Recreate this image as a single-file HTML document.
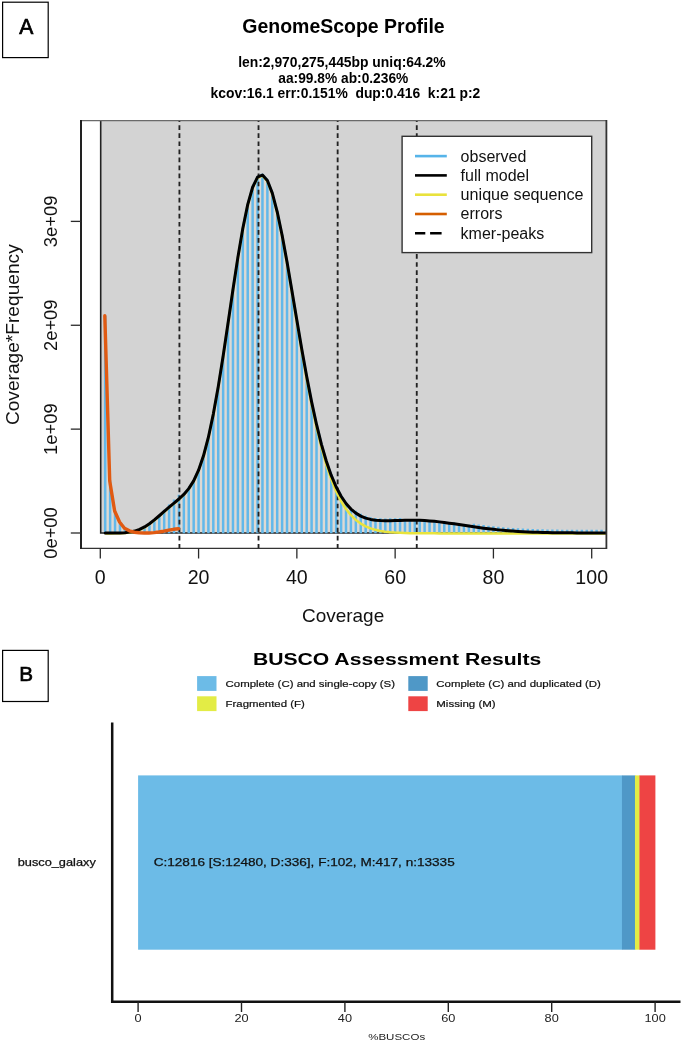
<!DOCTYPE html>
<html lang="en"><head><meta charset="utf-8"><title>GenomeScope Profile / BUSCO Assessment Results</title>
<style>html,body{margin:0;padding:0;background:#fff}body{width:685px;height:1044px;overflow:hidden}svg{display:block}</style></head>
<body>
<svg width="685" height="1044" viewBox="0 0 685 1044" font-family="'Liberation Sans', Arial, sans-serif">
<rect width="685" height="1044" fill="#fff"/>
<g id="panelA">
<rect x="2.6" y="2.2" width="45.6" height="55.4" fill="#fff" stroke="#000" stroke-width="1.2"/>
<text x="26.3" y="33.9" font-size="22" text-anchor="middle" fill="#000" stroke="#000" stroke-width="0.7" textLength="14.1" lengthAdjust="spacingAndGlyphs">A</text>
<text x="343.5" y="33.4" font-size="19.5" font-weight="bold" text-anchor="middle" textLength="202.4" lengthAdjust="spacingAndGlyphs">GenomeScope Profile</text>
<text x="341.9" y="66.6" font-size="13.9" font-weight="bold" text-anchor="middle" textLength="207.5" lengthAdjust="spacingAndGlyphs">len:2,970,275,445bp uniq:64.2%</text>
<text x="343.3" y="82.6" font-size="13.9" font-weight="bold" text-anchor="middle" textLength="130" lengthAdjust="spacingAndGlyphs">aa:99.8% ab:0.236%</text>
<text x="345.4" y="98.4" font-size="13.9" font-weight="bold" text-anchor="middle" textLength="269.7" lengthAdjust="spacingAndGlyphs" xml:space="preserve">kcov:16.1 err:0.151%  dup:0.416  k:21 p:2</text>
<rect x="100.6" y="120.6" width="506.2" height="412.4" fill="#d3d3d3"/>
<clipPath id="plotclip"><rect x="81.0" y="120.6" width="525.8" height="427.7"/></clipPath>
<g clip-path="url(#plotclip)">
<path d="M104.01,533.00 L105.21,315.80 L110.13,481.00 L115.04,510.97 L119.96,521.89 L124.87,527.84 L129.78,529.90 L134.70,530.26 L139.61,529.18 L144.53,526.93 L149.44,523.73 L154.35,519.53 L159.27,514.74 L164.18,509.64 L169.10,504.43 L174.01,499.45 L178.92,494.72 L183.84,493.99 L188.75,488.23 L193.67,480.47 L198.58,469.81 L203.49,455.44 L208.41,436.79 L213.32,413.65 L218.24,386.30 L223.15,355.52 L228.06,322.56 L232.98,289.08 L237.89,256.95 L242.81,228.08 L247.72,204.22 L252.63,186.80 L257.55,176.78 L262.46,174.58 L267.38,180.08 L272.29,192.68 L277.20,211.35 L282.12,234.83 L287.03,261.68 L291.95,290.49 L296.86,319.90 L301.77,348.78 L306.69,376.18 L311.60,401.43 L316.52,424.07 L321.43,443.88 L326.34,460.82 L331.26,474.99 L336.17,486.57 L341.09,495.85 L346.00,503.10 L350.91,508.63 L355.83,510.87 L360.74,513.81 L365.66,515.83 L370.57,517.14 L375.48,517.91 L380.40,518.29 L385.31,518.41 L390.23,518.37 L395.14,518.25 L400.05,518.10 L404.97,519.85 L409.88,519.79 L414.80,519.81 L419.71,519.93 L424.62,520.16 L429.54,520.50 L434.45,520.94 L439.37,521.46 L444.28,521.23 L449.19,521.90 L454.11,522.60 L459.02,523.34 L463.94,524.09 L468.85,524.83 L473.76,523.69 L478.68,524.39 L483.59,525.05 L488.51,525.67 L493.42,526.24 L498.33,526.76 L503.25,527.23 L508.16,527.64 L513.08,528.01 L517.99,528.32 L522.90,528.60 L527.82,528.83 L532.73,529.03 L537.65,529.20 L542.56,529.33 L547.47,529.45 L552.39,529.54 L557.30,529.61 L562.22,529.67 L567.13,529.72 L572.04,529.76 L576.96,529.79 L581.87,529.81 L586.79,529.83 L591.70,529.84 L596.61,529.85 L601.53,529.86 L606.44,529.87 L606.80,533.00 Z" fill="#ddd9d3"/>
<path d="M100.7,120.6 V533.0 H606.8" fill="none" stroke="#222" stroke-width="1.6"/>
<path d="M105.21,533.30 V315.80 M110.13,533.30 V481.00 M115.04,533.30 V510.97 M119.96,533.30 V521.89 M124.87,533.30 V527.84 M129.78,533.30 V529.90 M134.70,533.30 V530.26 M139.61,533.30 V529.18 M144.53,533.30 V526.93 M149.44,533.30 V523.73 M154.35,533.30 V519.53 M159.27,533.30 V514.74 M164.18,533.30 V509.64 M169.10,533.30 V504.43 M174.01,533.30 V499.45 M178.92,533.30 V494.72 M183.84,533.30 V493.99 M188.75,533.30 V488.23 M193.67,533.30 V480.47 M198.58,533.30 V469.81 M203.49,533.30 V455.44 M208.41,533.30 V436.79 M213.32,533.30 V413.65 M218.24,533.30 V386.30 M223.15,533.30 V355.52 M228.06,533.30 V322.56 M232.98,533.30 V289.08 M237.89,533.30 V256.95 M242.81,533.30 V228.08 M247.72,533.30 V204.22 M252.63,533.30 V186.80 M257.55,533.30 V176.78 M262.46,533.30 V174.58 M267.38,533.30 V180.08 M272.29,533.30 V192.68 M277.20,533.30 V211.35 M282.12,533.30 V234.83 M287.03,533.30 V261.68 M291.95,533.30 V290.49 M296.86,533.30 V319.90 M301.77,533.30 V348.78 M306.69,533.30 V376.18 M311.60,533.30 V401.43 M316.52,533.30 V424.07 M321.43,533.30 V443.88 M326.34,533.30 V460.82 M331.26,533.30 V474.99 M336.17,533.30 V486.57 M341.09,533.30 V495.85 M346.00,533.30 V503.10 M350.91,533.30 V508.63 M355.83,533.30 V510.87 M360.74,533.30 V513.81 M365.66,533.30 V515.83 M370.57,533.30 V517.14 M375.48,533.30 V517.91 M380.40,533.30 V518.29 M385.31,533.30 V518.41 M390.23,533.30 V518.37 M395.14,533.30 V518.25 M400.05,533.30 V518.10 M404.97,533.30 V519.85 M409.88,533.30 V519.79 M414.80,533.30 V519.81 M419.71,533.30 V519.93 M424.62,533.30 V520.16 M429.54,533.30 V520.50 M434.45,533.30 V520.94 M439.37,533.30 V521.46 M444.28,533.30 V521.23 M449.19,533.30 V521.90 M454.11,533.30 V522.60 M459.02,533.30 V523.34 M463.94,533.30 V524.09 M468.85,533.30 V524.83 M473.76,533.30 V523.69 M478.68,533.30 V524.39 M483.59,533.30 V525.05 M488.51,533.30 V525.67 M493.42,533.30 V526.24 M498.33,533.30 V526.76 M503.25,533.30 V527.23 M508.16,533.30 V527.64 M513.08,533.30 V528.01 M517.99,533.30 V528.32 M522.90,533.30 V528.60 M527.82,533.30 V528.83 M532.73,533.30 V529.03 M537.65,533.30 V529.20 M542.56,533.30 V529.33 M547.47,533.30 V529.45 M552.39,533.30 V529.54 M557.30,533.30 V529.61 M562.22,533.30 V529.67 M567.13,533.30 V529.72 M572.04,533.30 V529.76 M576.96,533.30 V529.79 M581.87,533.30 V529.81 M586.79,533.30 V529.83 M591.70,533.30 V529.84 M596.61,533.30 V529.85 M601.53,533.30 V529.86 M606.44,533.30 V529.87" stroke="#62b8ea" stroke-width="2.5" fill="none"/>
<path d="M183.84,493.99 L188.75,488.23 L193.67,480.47 L198.58,469.81 L203.49,455.44 L208.41,436.79 L213.32,413.65 L218.24,386.30 L223.15,355.52 L228.06,322.56 L232.98,289.08 L237.89,256.95 L242.81,228.08 L247.72,204.22 L252.63,186.80 L257.55,176.78 L262.46,174.58 L267.38,180.08 L272.29,192.68 L277.20,211.35 L282.12,234.83 L287.03,261.68 L291.95,290.49 L296.86,319.90 L301.77,348.78 L306.69,376.18 L311.60,401.43 L316.52,424.07 L321.43,443.88 L326.34,460.82 L331.26,474.99 L336.17,486.57 L341.09,495.85 L346.00,503.10" stroke="#62b8ea" stroke-width="2.2" fill="none" stroke-linejoin="round"/>
<line x1="179.42" x2="179.42" y1="548.6" y2="120.6" stroke="#222" stroke-width="1.85" stroke-dasharray="4.7 3.35"/>
<line x1="258.53" x2="258.53" y1="548.6" y2="120.6" stroke="#222" stroke-width="1.85" stroke-dasharray="4.7 3.35"/>
<line x1="337.65" x2="337.65" y1="548.6" y2="120.6" stroke="#222" stroke-width="1.85" stroke-dasharray="4.7 3.35"/>
<line x1="416.76" x2="416.76" y1="548.6" y2="120.6" stroke="#222" stroke-width="1.85" stroke-dasharray="4.7 3.35"/>
<path d="M105.21,533.40 L110.13,533.40 L115.04,533.37 L119.96,533.29 L124.87,533.04 L129.78,532.50 L134.70,531.46 L139.61,529.78 L144.53,527.33 L149.44,524.13 L154.35,520.33 L159.27,516.14 L164.18,511.84 L169.10,507.63 L174.01,503.55 L178.92,499.42 L183.84,494.81 L188.75,489.04 L193.67,481.28 L198.58,470.62 L203.49,456.26 L208.41,437.61 L213.32,414.47 L218.24,387.12 L223.15,356.34 L228.06,323.39 L232.98,289.92 L237.89,257.80 L242.81,228.95 L247.72,205.12 L252.63,187.74 L257.55,177.76 L262.46,175.62 L267.38,181.20 L272.29,193.89 L277.20,212.68 L282.12,236.30 L287.03,263.31 L291.95,292.30 L296.86,321.93 L301.77,351.04 L306.69,378.71 L311.60,404.25 L316.52,427.22 L321.43,447.40 L326.34,464.74 L331.26,479.34 L336.17,491.42 L341.09,501.22 L346.00,509.05 L350.91,515.20 L355.83,519.96 L360.74,523.60 L365.66,526.33 L370.57,528.35 L375.48,529.84 L380.40,530.91 L385.31,531.68 L390.23,532.22 L395.14,532.60 L400.05,532.87 L404.97,533.04 L409.88,533.17 L414.80,533.25 L419.71,533.30 L424.62,533.34 L429.54,533.36 L434.45,533.37 L439.37,533.38 L444.28,533.39 L449.19,533.39 L454.11,533.40 L459.02,533.40 L463.94,533.40 L468.85,533.40 L473.76,533.40 L478.68,533.40 L483.59,533.40 L488.51,533.40 L493.42,533.40 L498.33,533.40 L503.25,533.40 L508.16,533.40 L513.08,533.40 L517.99,533.40 L522.90,533.40 L527.82,533.40 L532.73,533.40 L537.65,533.40 L542.56,533.40 L547.47,533.40 L552.39,533.40 L557.30,533.40 L562.22,533.40 L567.13,533.40 L572.04,533.40 L576.96,533.40 L581.87,533.40 L586.79,533.40 L591.70,533.40 L596.61,533.40 L601.53,533.40 L606.44,533.40 L611.36,533.40" stroke="#e8e33c" stroke-width="2.5" fill="none" stroke-linejoin="round"/>
<path d="M105.21,533.00 L110.13,533.00 L115.04,532.97 L119.96,532.89 L124.87,532.64 L129.78,532.10 L134.70,531.06 L139.61,529.38 L144.53,526.93 L149.44,523.73 L154.35,519.93 L159.27,515.74 L164.18,511.44 L169.10,507.23 L174.01,503.15 L178.92,499.02 L183.84,494.41 L188.75,488.64 L193.67,480.88 L198.58,470.22 L203.49,455.86 L208.41,437.21 L213.32,414.07 L218.24,386.72 L223.15,355.93 L228.06,322.98 L232.98,289.50 L237.89,257.37 L242.81,228.49 L247.72,204.64 L252.63,187.22 L257.55,177.20 L262.46,175.00 L267.38,180.50 L272.29,193.09 L277.20,211.77 L282.12,235.24 L287.03,262.10 L291.95,290.90 L296.86,320.32 L301.77,349.20 L306.69,376.60 L311.60,401.84 L316.52,424.48 L321.43,444.30 L326.34,461.24 L331.26,475.40 L336.17,486.99 L341.09,496.26 L346.00,503.52 L350.91,509.05 L355.83,513.15 L360.74,516.09 L365.66,518.11 L370.57,519.42 L375.48,520.19 L380.40,520.58 L385.31,520.70 L390.23,520.66 L395.14,520.53 L400.05,520.38 L404.97,520.26 L409.88,520.20 L414.80,520.23 L419.71,520.35 L424.62,520.58 L429.54,520.92 L434.45,521.35 L439.37,521.88 L444.28,522.48 L449.19,523.14 L454.11,523.85 L459.02,524.58 L463.94,525.33 L468.85,526.08 L473.76,526.80 L478.68,527.50 L483.59,528.17 L488.51,528.79 L493.42,529.36 L498.33,529.88 L503.25,530.34 L508.16,530.76 L513.08,531.12 L517.99,531.44 L522.90,531.72 L527.82,531.95 L532.73,532.15 L537.65,532.31 L542.56,532.45 L547.47,532.56 L552.39,532.65 L557.30,532.73 L562.22,532.79 L567.13,532.84 L572.04,532.87 L576.96,532.90 L581.87,532.93 L586.79,532.95 L591.70,532.96 L596.61,532.97 L601.53,532.98 L606.44,532.98 L611.36,532.99" stroke="#000" stroke-width="3.0" fill="none" stroke-linejoin="round" stroke-linecap="round"/>
<path d="M104.81,315.80 L109.73,481.00 L114.64,511.00 L119.56,522.00 L124.47,528.20 L129.38,530.80 L134.30,532.20 L139.21,532.80 L144.13,533.00 L149.04,533.00 L153.95,532.60 L158.87,532.00 L163.78,531.20 L168.70,530.20 L173.61,529.30 L178.52,528.70" stroke="#e05a12" stroke-width="3.4" fill="none" stroke-linejoin="round" stroke-linecap="round"/>
</g>
<line x1="81.0" x2="606.8" y1="120.6" y2="120.6" stroke="#6a6a6a" stroke-width="1.1"/>
<line x1="81.0" x2="606.8" y1="548.3" y2="548.3" stroke="#333" stroke-width="1.3"/>
<line x1="606.4" x2="606.4" y1="120.1" y2="548.9" stroke="#333" stroke-width="1.8"/>
<line x1="81.0" x2="81.0" y1="120.1" y2="548.9" stroke="#222" stroke-width="2"/>
<line x1="70.8" x2="81.0" y1="533.00" y2="533.00" stroke="#2a2a2a" stroke-width="1.3"/>
<text transform="translate(56.8,533.00) rotate(-90)" font-size="17.6" text-anchor="middle" textLength="51.5" lengthAdjust="spacingAndGlyphs" fill="#111">0e+00</text>
<line x1="70.8" x2="81.0" y1="429.13" y2="429.13" stroke="#2a2a2a" stroke-width="1.3"/>
<text transform="translate(56.8,429.13) rotate(-90)" font-size="17.6" text-anchor="middle" textLength="51.5" lengthAdjust="spacingAndGlyphs" fill="#111">1e+09</text>
<line x1="70.8" x2="81.0" y1="325.26" y2="325.26" stroke="#2a2a2a" stroke-width="1.3"/>
<text transform="translate(56.8,325.26) rotate(-90)" font-size="17.6" text-anchor="middle" textLength="51.5" lengthAdjust="spacingAndGlyphs" fill="#111">2e+09</text>
<line x1="70.8" x2="81.0" y1="221.39" y2="221.39" stroke="#2a2a2a" stroke-width="1.3"/>
<text transform="translate(56.8,221.39) rotate(-90)" font-size="17.6" text-anchor="middle" textLength="51.5" lengthAdjust="spacingAndGlyphs" fill="#111">3e+09</text>
<line x1="100.30" x2="100.30" y1="548.3" y2="558.5" stroke="#2a2a2a" stroke-width="1.3"/>
<text x="100.30" y="584.3" font-size="19.6" text-anchor="middle" fill="#111">0</text>
<line x1="198.58" x2="198.58" y1="548.3" y2="558.5" stroke="#2a2a2a" stroke-width="1.3"/>
<text x="198.58" y="584.3" font-size="19.6" text-anchor="middle" fill="#111">20</text>
<line x1="296.86" x2="296.86" y1="548.3" y2="558.5" stroke="#2a2a2a" stroke-width="1.3"/>
<text x="296.86" y="584.3" font-size="19.6" text-anchor="middle" fill="#111">40</text>
<line x1="395.14" x2="395.14" y1="548.3" y2="558.5" stroke="#2a2a2a" stroke-width="1.3"/>
<text x="395.14" y="584.3" font-size="19.6" text-anchor="middle" fill="#111">60</text>
<line x1="493.42" x2="493.42" y1="548.3" y2="558.5" stroke="#2a2a2a" stroke-width="1.3"/>
<text x="493.42" y="584.3" font-size="19.6" text-anchor="middle" fill="#111">80</text>
<line x1="591.70" x2="591.70" y1="548.3" y2="558.5" stroke="#2a2a2a" stroke-width="1.3"/>
<text x="591.70" y="584.3" font-size="19.6" text-anchor="middle" fill="#111">100</text>
<text x="343.1" y="622.3" font-size="18.2" text-anchor="middle" textLength="82.3" lengthAdjust="spacingAndGlyphs" fill="#111">Coverage</text>
<text transform="translate(18.6,334.7) rotate(-90)" font-size="18.6" text-anchor="middle" textLength="180.8" lengthAdjust="spacingAndGlyphs" fill="#111">Coverage*Frequency</text>
<rect x="402.1" y="136.3" width="189.6" height="116.3" fill="#fff" stroke="#333" stroke-width="1.4"/>
<line x1="415" x2="446.8" y1="156.1" y2="156.1" stroke="#56b4e9" stroke-width="2.6"/>
<text x="460.6" y="161.5" font-size="16" fill="#111" textLength="65.8" lengthAdjust="spacingAndGlyphs">observed</text>
<line x1="415" x2="446.8" y1="175.4" y2="175.4" stroke="#000" stroke-width="2.6"/>
<text x="460.6" y="180.8" font-size="16" fill="#111">full model</text>
<line x1="415" x2="446.8" y1="194.7" y2="194.7" stroke="#e9e23c" stroke-width="2.6"/>
<text x="460.6" y="200.1" font-size="16" fill="#111" textLength="123" lengthAdjust="spacingAndGlyphs">unique sequence</text>
<line x1="415" x2="446.8" y1="214.0" y2="214.0" stroke="#d55e00" stroke-width="2.6"/>
<text x="460.6" y="219.4" font-size="16" fill="#111">errors</text>
<line x1="415" x2="446.8" y1="233.3" y2="233.3" stroke="#000" stroke-width="2.6" stroke-dasharray="10.3 4.8 11.5 100"/>
<text x="460.6" y="238.7" font-size="16" fill="#111">kmer-peaks</text>
</g>
<g id="panelB">
<rect x="2.6" y="650.4" width="45.6" height="51.1" fill="#fff" stroke="#000" stroke-width="1.2"/>
<text x="26.1" y="681.4" font-size="20.7" text-anchor="middle" fill="#000" stroke="#000" stroke-width="0.7">B</text>
<text x="397.1" y="665.2" font-size="16.5" font-weight="bold" text-anchor="middle" textLength="288.4" lengthAdjust="spacingAndGlyphs">BUSCO Assessment Results</text>
<rect x="197.1" y="676.1" width="19.4" height="14.8" fill="#6cbbe7"/>
<rect x="197.1" y="696.3" width="19.4" height="14.8" fill="#e3ec45"/>
<rect x="408.3" y="676.1" width="19.4" height="14.8" fill="#4f98c7"/>
<rect x="408.3" y="696.3" width="19.4" height="14.8" fill="#ee4444"/>
<text x="225.6" y="687.1" font-size="9.3" fill="#111" stroke="#111" stroke-width="0.2" textLength="169.4" lengthAdjust="spacingAndGlyphs">Complete (C) and single-copy (S)</text>
<text x="225.6" y="706.7" font-size="9.3" fill="#111" stroke="#111" stroke-width="0.2" textLength="79.2" lengthAdjust="spacingAndGlyphs">Fragmented (F)</text>
<text x="436.3" y="687.1" font-size="9.3" fill="#111" stroke="#111" stroke-width="0.2" textLength="164.5" lengthAdjust="spacingAndGlyphs">Complete (C) and duplicated (D)</text>
<text x="436.3" y="706.7" font-size="9.3" fill="#111" stroke="#111" stroke-width="0.2" textLength="59.4" lengthAdjust="spacingAndGlyphs">Missing (M)</text>
<path d="M112.2,722.6 V1001.8 H680.5" fill="none" stroke="#111" stroke-width="2.5"/>
<rect x="138.10" y="775.4" width="484.15" height="174.3" fill="#6cbbe7"/>
<rect x="621.95" y="775.4" width="13.33" height="174.3" fill="#4f98c7"/>
<rect x="634.98" y="775.4" width="4.87" height="174.3" fill="#e3ec45"/>
<rect x="639.45" y="775.4" width="15.95" height="174.3" fill="#ee4444"/>
<line x1="138.10" x2="138.10" y1="1001.8" y2="1012" stroke="#222" stroke-width="1.4"/>
<text x="138.10" y="1021.6" font-size="10.2" text-anchor="middle" fill="#222" textLength="7.1" lengthAdjust="spacingAndGlyphs">0</text>
<line x1="241.50" x2="241.50" y1="1001.8" y2="1012" stroke="#222" stroke-width="1.4"/>
<text x="241.50" y="1021.6" font-size="10.2" text-anchor="middle" fill="#222" textLength="14.2" lengthAdjust="spacingAndGlyphs">20</text>
<line x1="344.90" x2="344.90" y1="1001.8" y2="1012" stroke="#222" stroke-width="1.4"/>
<text x="344.90" y="1021.6" font-size="10.2" text-anchor="middle" fill="#222" textLength="14.2" lengthAdjust="spacingAndGlyphs">40</text>
<line x1="448.30" x2="448.30" y1="1001.8" y2="1012" stroke="#222" stroke-width="1.4"/>
<text x="448.30" y="1021.6" font-size="10.2" text-anchor="middle" fill="#222" textLength="14.2" lengthAdjust="spacingAndGlyphs">60</text>
<line x1="551.70" x2="551.70" y1="1001.8" y2="1012" stroke="#222" stroke-width="1.4"/>
<text x="551.70" y="1021.6" font-size="10.2" text-anchor="middle" fill="#222" textLength="14.2" lengthAdjust="spacingAndGlyphs">80</text>
<line x1="655.10" x2="655.10" y1="1001.8" y2="1012" stroke="#222" stroke-width="1.4"/>
<text x="655.10" y="1021.6" font-size="10.2" text-anchor="middle" fill="#222" textLength="21.3" lengthAdjust="spacingAndGlyphs">100</text>
<text x="17.7" y="866.2" font-size="10.3" fill="#111" stroke="#111" stroke-width="0.25" textLength="78.1" lengthAdjust="spacingAndGlyphs">busco_galaxy</text>
<text x="153.7" y="866.3" font-size="10.8" fill="#111" stroke="#111" stroke-width="0.25" textLength="301" lengthAdjust="spacingAndGlyphs">C:12816 [S:12480, D:336], F:102, M:417, n:13335</text>
<text x="396.7" y="1040.2" font-size="8.2" text-anchor="middle" fill="#222" textLength="57" lengthAdjust="spacingAndGlyphs">%BUSCOs</text>
</g>
</svg>
</body></html>
